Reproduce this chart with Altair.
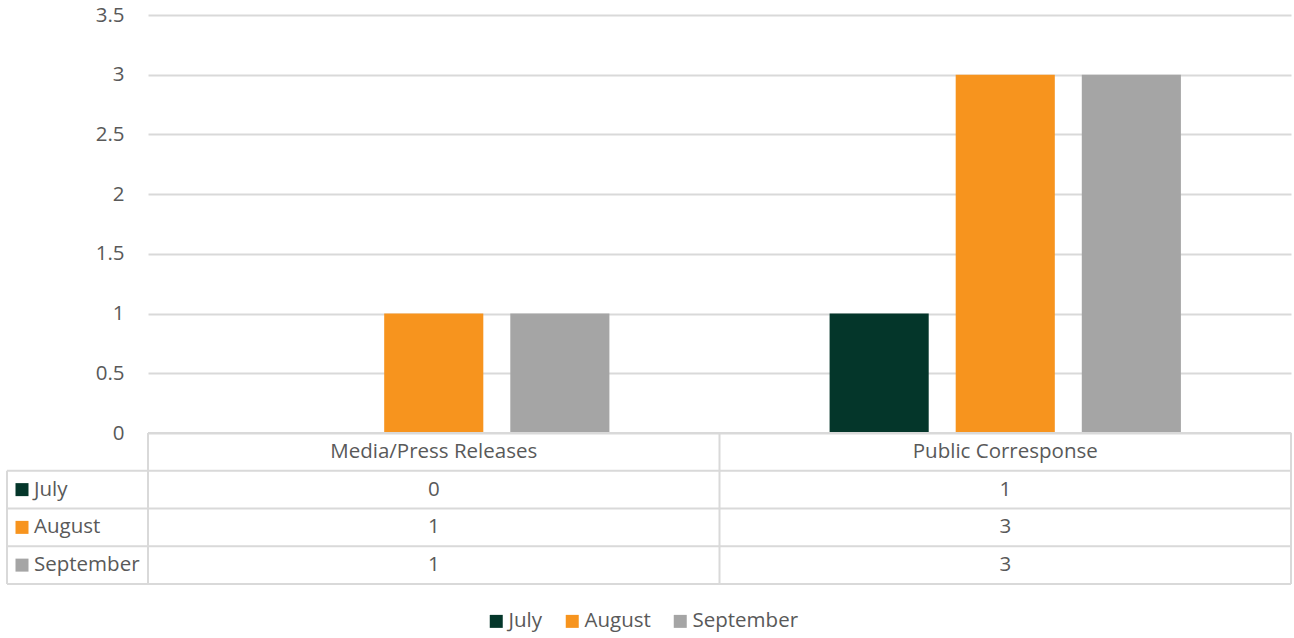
import altair as alt
import pandas as pd

# Source figures
categories = ["Media/Press Releases", "Public Corresponse"]
months = ["July", "August", "September"]
july = [0, 1]
august = [1, 3]
september = [1, 3]
y_ticks = [0, 0.5, 1, 1.5, 2, 2.5, 3, 3.5]

colors = ["#04362A", "#F7941E", "#A5A5A5"]
FONT = "Open Sans"
TEXT = "#595959"
LINE = "#D9D9D9"
FS = 20.5

W, H = 1143, 418          # plot area (bars)
TABLE_BOTTOM = 569        # bottom of the data table, in plot pixels
LABEL_COL = -141          # left edge of the series-name column

series = {"July": july, "August": august, "September": september}
rows = []
for m in months:
    for c, v in zip(categories, series[m]):
        rows.append({"category": c, "month": m, "value": v})
df = pd.DataFrame(rows)

header = pd.DataFrame({"category": categories, "row": ["hdr"] * len(categories)})
row_names = pd.DataFrame({"month": months})

x_scale = alt.Scale(domain=categories, paddingInner=0, paddingOuter=0)
row_scale = alt.Scale(domain=["hdr"] + months, range=[H, TABLE_BOTTOM],
                      paddingInner=0, paddingOuter=0)
color_scale = alt.Scale(domain=months, range=colors)

base_x = alt.X("category:N", scale=x_scale, axis=None, title=None)

bars = alt.Chart(df).mark_bar().encode(
    x=base_x,
    xOffset=alt.XOffset("month:N", sort=months,
                        scale=alt.Scale(paddingInner=0.214, paddingOuter=0.873)),
    y=alt.Y("value:Q", scale=alt.Scale(domain=[0, 3.5], nice=False),
            axis=alt.Axis(values=y_ticks, format="~g", title=None, grid=True,
                          gridColor=LINE, gridWidth=2, domain=False, ticks=False,
                          labelPadding=24, labelFont=FONT, labelFontSize=FS,
                          labelColor=TEXT)),
    color=alt.Color("month:N", sort=months, scale=color_scale,
                    legend=alt.Legend(orient="none", legendX=338, legendY=596,
                                      direction="horizontal", title=None,
                                      symbolType="square", symbolSize=169,
                                      symbolStrokeWidth=0, labelFont=FONT,
                                      labelFontSize=FS, labelColor=TEXT,
                                      labelOffset=2, columnPadding=19, padding=0)),
)

row_y = alt.Y("row:N", scale=row_scale, axis=None, title=None)
month_y = alt.Y("month:N", scale=row_scale, axis=None, title=None)

header_text = alt.Chart(header).mark_text(
    font=FONT, fontSize=FS, color=TEXT, baseline="middle"
).encode(x=base_x, y=row_y, text="category:N")

value_text = alt.Chart(df).mark_text(
    font=FONT, fontSize=FS, color=TEXT, baseline="middle"
).encode(x=base_x, y=month_y, text="value:Q")

name_swatch = alt.Chart(row_names).mark_square(size=169, opacity=1).encode(
    x=alt.value(-126), y=month_y,
    color=alt.Color("month:N", sort=months, scale=color_scale, legend=None),
)

name_text = alt.Chart(row_names).mark_text(
    font=FONT, fontSize=FS, color=TEXT, baseline="middle", align="left"
).encode(x=alt.value(-114), y=month_y, text="month:N")

# Table borders
h_lines = alt.Chart(row_names).mark_rule(color=LINE, strokeWidth=2).encode(
    y=alt.Y("month:N", scale=row_scale, axis=None, bandPosition=0),
    x=alt.value(LABEL_COL), x2=alt.value(W),
)
bottom_line = alt.Chart(row_names.tail(1)).mark_rule(color=LINE, strokeWidth=2).encode(
    y=alt.Y("month:N", scale=row_scale, axis=None, bandPosition=1),
    x=alt.value(LABEL_COL), x2=alt.value(W),
)
top_line = alt.Chart(header.head(1)).mark_rule(color=LINE, strokeWidth=2).encode(
    y=alt.Y("row:N", scale=row_scale, axis=None, bandPosition=0),
    x=alt.value(0), x2=alt.value(W),
)
col_lines = alt.Chart(header).mark_rule(color=LINE, strokeWidth=2).encode(
    x=alt.X("category:N", scale=x_scale, axis=None, bandPosition=0),
    y=alt.value(H), y2=alt.value(TABLE_BOTTOM),
)
right_line = alt.Chart(header.tail(1)).mark_rule(color=LINE, strokeWidth=2).encode(
    x=alt.X("category:N", scale=x_scale, axis=None, bandPosition=1),
    y=alt.value(H), y2=alt.value(TABLE_BOTTOM),
)
left_line = alt.Chart(row_names.head(1)).mark_rule(color=LINE, strokeWidth=2).encode(
    x=alt.value(LABEL_COL),
    y=alt.Y("month:N", scale=row_scale, axis=None, bandPosition=0),
    y2=alt.value(TABLE_BOTTOM),
)

chart = alt.layer(
    bars, h_lines, bottom_line, top_line, col_lines, right_line, left_line,
    header_text, value_text, name_swatch, name_text,
).resolve_scale(y="independent").resolve_legend(color="independent").properties(
    width=W, height=H,
    background="white",
    autosize=alt.AutoSizeParams(type="none"),
    padding={"left": 148, "top": 15, "right": 3, "bottom": 205},
).configure_view(stroke=None)

chart.save("out.html", embed_options={"renderer": "svg", "actions": False})
